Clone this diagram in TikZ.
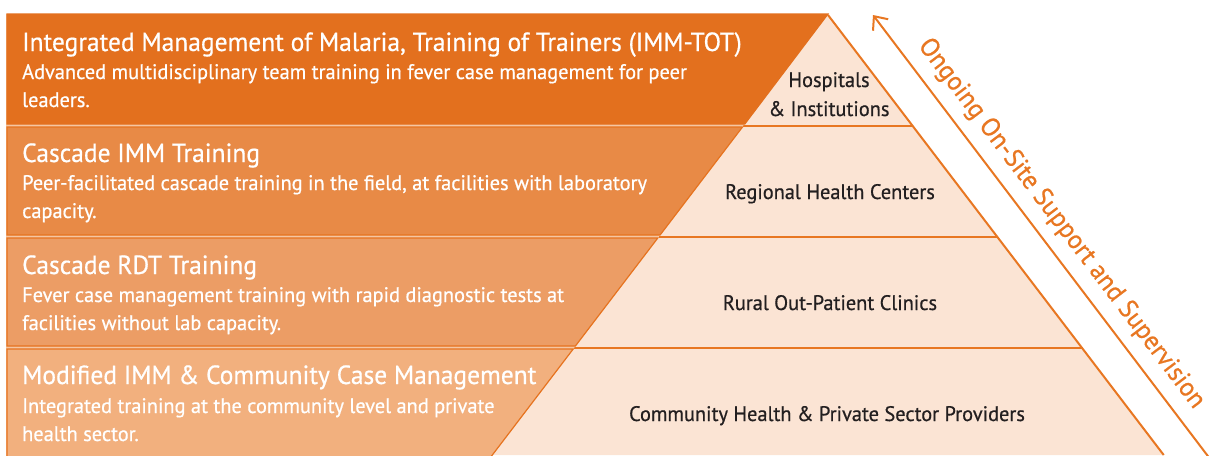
\documentclass[tikz,border=0pt]{standalone}
\usepackage{fontspec}
\setmainfont[FakeStretch=0.97,FakeBold=0.6]{PT Sans}
\usetikzlibrary{arrows.meta}
\definecolor{bandA}{HTML}{E3701E}
\definecolor{bandB}{HTML}{E88A46}
\definecolor{bandC}{HTML}{EC9D65}
\definecolor{bandD}{HTML}{F2B07E}
\definecolor{bandEdge}{HTML}{E6731F}
\definecolor{gapPale}{HTML}{F5C6A2}
\definecolor{pyrFill}{HTML}{FBE4D4}
\definecolor{pyrLine}{HTML}{E87722}
\definecolor{darkText}{HTML}{231F20}
\tikzset{
  band/.style={draw=bandEdge, line width=1.2pt},
  pyrline/.style={draw=pyrLine, line width=2pt},
  titletext/.style={anchor=base west, inner sep=0pt, text=white, font=\fontsize{26.3}{30}\selectfont},
  subtext/.style={anchor=base west, inner sep=0pt, text=white, font=\fontsize{21}{26}\selectfont},
  leveltext/.style={anchor=base, inner sep=0pt, text=darkText, font=\fontsize{21}{26}\selectfont},
  sidetext/.style={anchor=base, inner sep=0pt, text=pyrLine, font=\fontsize{26.3}{30}\selectfont, rotate=-52.8}
}
\begin{document}
\begin{tikzpicture}[x=1pt,y=-1pt]
\useasboundingbox (0,0) rectangle (1212,455);
\fill[white] (0,0) rectangle (1212,455);

% pyramid corners and level boundaries
\coordinate (apex) at (828,15);
\coordinate (baseL) at (492.3,455);
\coordinate (baseR) at (1163.7,455);
\coordinate (l1) at (743.3,126);  \coordinate (r1) at (912.7,126);
\coordinate (l2) at (658.6,237);  \coordinate (r2) at (997.4,237);
\coordinate (l3) at (573.9,348);  \coordinate (r3) at (1082.1,348);

% pyramid body
\fill[pyrFill] (apex) -- (baseR) -- (baseL) -- cycle;
\draw[pyrline] (l1) -- (r1);
\draw[pyrline] (l2) -- (r2);
\draw[pyrline] (l3) -- (r3);
\draw[pyrline] (apex) -- (baseR);

% pale strip showing between the training bands
\fill[gapPale] (6,14) -- (828,14) -- (491,457) -- (6,457) -- cycle;

% training bands
\draw[band, draw=bandA, fill=bandA] (7,14) -- (828,14) -- (744.8,124) -- (7,124) -- cycle;
\draw[band, fill=bandB] (7,127) -- (742.5,127) -- (660.1,235) -- (7,235) -- cycle;
\draw[band, fill=bandC] (7,238) -- (657.8,238) -- (575.4,346) -- (7,346) -- cycle;
\draw[band, fill=bandD] (7,349) -- (573.2,349) -- (490.8,457) -- (7,457) -- cycle;

% band texts
\node[titletext] (t1) at (22,51) {Integrated Management of Malaria, Training of Trainers (IMM-TOT)};
\node[subtext] (s1a) at (22,79) {Advanced multidisciplinary team training in fever case management for peer};
\node[subtext] (s1b) at (22,107) {leaders.};

\node[titletext] (t2) at (22,162) {Cascade IMM Training};
\node[subtext] (s2a) at (22,190) {Peer-facilitated cascade training in the field, at facilities with laboratory};
\node[subtext] (s2b) at (22,218) {capacity.};

\node[titletext] (t3) at (22,274) {Cascade RDT Training};
\node[subtext] (s3a) at (22,302) {Fever case management training with rapid diagnostic tests at};
\node[subtext] (s3b) at (22,330) {facilities without lab capacity.};

\node[titletext] (t4) at (22,384) {Modified IMM \& Community Case Management};
\node[subtext] (s4a) at (22,413) {Integrated training at the community level and private};
\node[subtext] (s4b) at (22,441) {health sector.};

% pyramid level labels
\node[leveltext] (p1a) at (829,87) {Hospitals};
\node[leveltext] (p1b) at (829,116) {\& Institutions};
\node[leveltext] (p2) at (830,199) {Regional Health Centers};
\node[leveltext] (p3) at (830,310) {Rural Out-Patient Clinics};
\node[leveltext] (p4) at (827,421) {Community Health \& Private Sector Providers};

% support arrow along the right side
\coordinate (tip) at (873,15);
\coordinate (tail) at (1212,461.5);
\draw[draw=pyrLine, line width=2pt, -{Straight Barb[length=11pt,width=19pt]}] (tail) -- (tip);
\node[sidetext] (side) at (1055.9,227.9) {Ongoing On-Site Support and Supervision};
\end{tikzpicture}
\end{document}
